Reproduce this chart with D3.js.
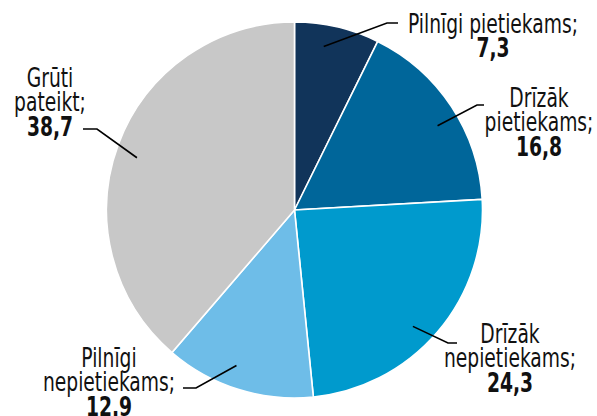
<!DOCTYPE html>
<html>
<head>
<meta charset="utf-8">
<script src="https://cdn.jsdelivr.net/npm/d3@7"></script>
<style>
  html, body { margin: 0; padding: 0; background: #fff; }
  svg { display: block; }
  text { font-family: "DejaVu Sans Condensed", "DejaVu Sans", sans-serif; font-stretch: condensed; fill: #111; }
</style>
</head>
<body>
<svg id="chart" width="597" height="416"></svg>
<script>
// Survey answers and their shares (%)
const categories = ["Pilnīgi pietiekams", "Drīzāk pietiekams", "Drīzāk nepietiekams", "Pilnīgi nepietiekams", "Grūti pateikt"];
const values = [7.3, 16.8, 24.3, 12.9, 38.7];
const valueLabels = ["7,3", "16,8", "24,3", "12.9", "38,7"];
const labelLines = [
  ["Pilnīgi pietiekams;"],
  ["Drīzāk", "pietiekams;"],
  ["Drīzāk", "nepietiekams;"],
  ["Pilnīgi", "nepietiekams;"],
  ["Grūti", "pateikt;"]
];
const colors = ["#11345a", "#00669a", "#009acd", "#6ebde8", "#c8c8c8"];

// Label layout: text centre x, first baseline y, leader elbow and end, angle nudge (deg)
const layout = [
  { x: 493, y: 33,  elbow: [387, 23],  end: [398, 23],  nudge: -3 },
  { x: 539, y: 107, elbow: [477, 105], end: [484, 105], nudge: 3 },
  { x: 510, y: 343, elbow: [448, 343], end: [457, 343], nudge: 4 },
  { x: 109, y: 367, elbow: [196, 388], end: [183, 388], nudge: 3 },
  { x: 50,  y: 87,  elbow: [97, 129],  end: [83, 129],  nudge: -2 }
];

const svg = d3.select("#chart");
const cx = 294.5, cy = 210, R = 188;
const g = svg.append("g").attr("transform", `translate(${cx},${cy})`);

const pie = d3.pie().sort(null).value(d => d)(values);
const arc = d3.arc().innerRadius(0).outerRadius(R);

g.selectAll("path.slice")
  .data(pie)
  .join("path")
  .attr("class", "slice")
  .attr("d", arc)
  .attr("fill", (d, i) => colors[i])
  .attr("stroke", "#fff")
  .attr("stroke-width", 1.6);

// Leader lines from inside each slice out to its label
const rIn = 166;
pie.forEach((d, i) => {
  const a = (d.startAngle + d.endAngle) / 2 + layout[i].nudge * Math.PI / 180;
  const sx = cx + rIn * Math.sin(a), sy = cy - rIn * Math.cos(a);
  const L = layout[i];
  svg.append("polyline")
    .attr("points", [[sx, sy], L.elbow, L.end].map(p => p.join(",")).join(" "))
    .attr("fill", "none")
    .attr("stroke", "#000")
    .attr("stroke-width", 1.6);
});

// Labels, horizontally narrowed for a condensed look
const lh = 24.5;
labelLines.forEach((lines, i) => {
  const L = layout[i];
  const t = svg.append("text")
    .attr("transform", `translate(${L.x},0) scale(0.8,1)`)
    .attr("text-anchor", "middle")
    .attr("font-size", 26);
  lines.forEach((ln, j) => {
    t.append("tspan").attr("x", 0).attr("y", L.y + j * lh).text(ln);
  });
  t.append("tspan")
    .attr("x", 0)
    .attr("y", L.y + lines.length * lh)
    .attr("font-weight", "bold")
    .text(valueLabels[i]);
});
</script>
</body>
</html>
